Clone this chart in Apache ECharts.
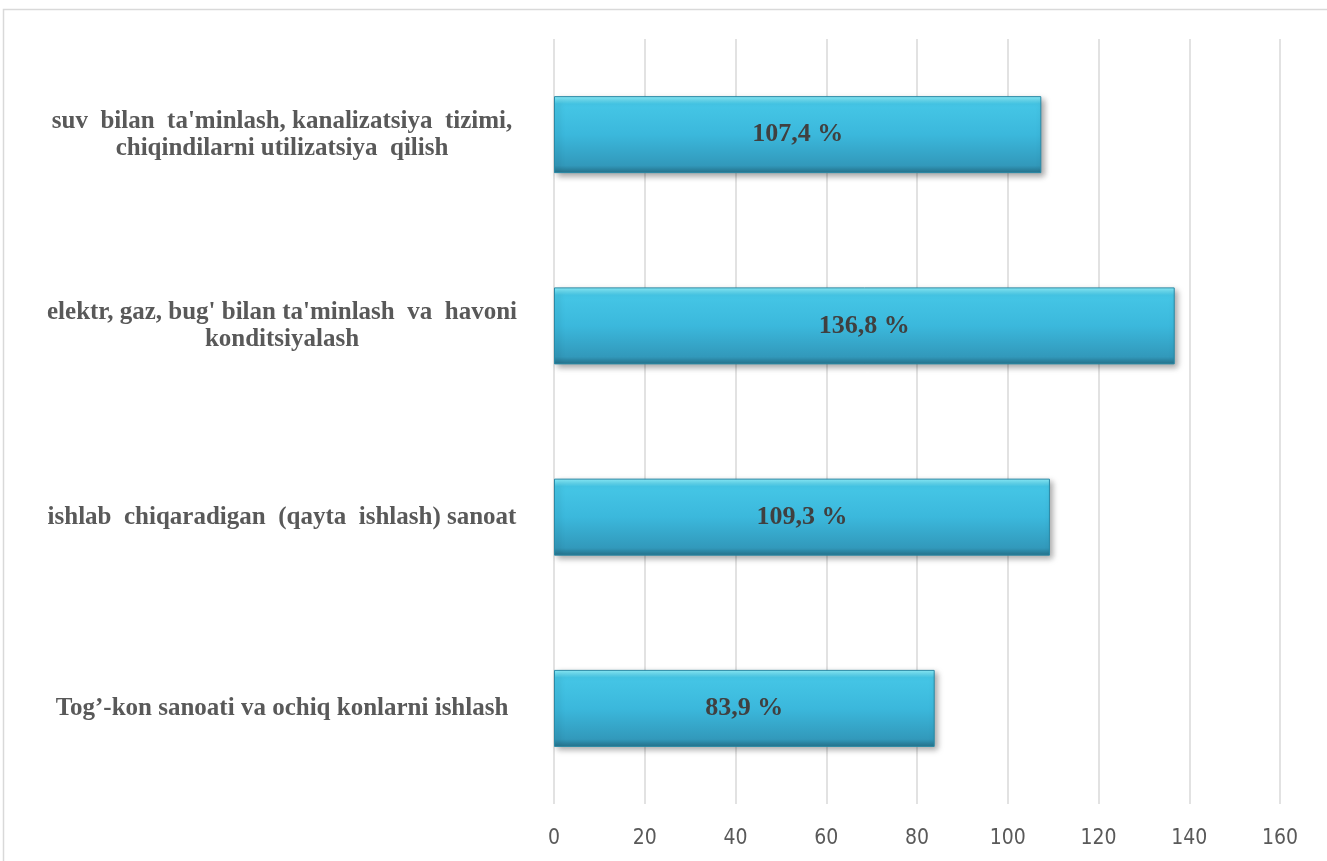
<!DOCTYPE html>
<html>
<head>
	<meta charset="utf-8" />
	<script src="https://cdn.jsdelivr.net/npm/echarts@6/dist/echarts.min.js"></script>
	<style>
		html,
		body {
			margin: 0;
			padding: 0;
			background: #fff;
		}
		#chartMain {
			width: 1327px;
			height: 861px;
		}
	</style>
</head>
<body>
	<div id="chartMain"></div>
	<script>
		// 分类（从下到上）
		const categories = [
			'Tog’-kon sanoati va ochiq konlarni ishlash',
			'ishlab  chiqaradigan  (qayta  ishlash) sanoat',
			"elektr, gaz, bug' bilan ta'minlash  va  havoni\nkonditsiyalash",
			"suv  bilan  ta'minlash, kanalizatsiya  tizimi,\nchiqindilarni utilizatsiya  qilish"
		]
		const values = [83.9, 109.3, 136.8, 107.4]
		const xTicks = [0, 20, 40, 60, 80, 100, 120, 140, 160]

		const myCharts = echarts.init(document.getElementById('chartMain'))
		var option

		option = {
			animation: false,
			graphic: [
				{
					// 外边框
					type: 'rect',
					shape: { x: 3.5, y: 9.5, width: 1340, height: 880 },
					style: { fill: 'none', stroke: '#d9d9d9', lineWidth: 1.5 },
					silent: true
				}
			],
			grid: {
				top: 39,
				bottom: 57,
				left: 554,
				right: 47
			},
			xAxis: {
				type: 'value',
				min: xTicks[0],
				max: xTicks[xTicks.length - 1],
				interval: 20,
				axisLine: { show: false },
				axisTick: { show: false },
				axisLabel: {
					//坐标轴刻度标签的相关设置
					color: '#595959',
					fontSize: 21,
					fontFamily: 'DejaVu Sans Condensed',
					margin: 24
				},
				splitLine: {
					show: true,
					lineStyle: { color: '#d9d9d9', width: 1.5 }
				}
			},
			yAxis: {
				type: 'category',
				data: categories,
				axisLine: { show: false },
				axisTick: { show: false },
				axisLabel: {
					color: '#595959',
					fontSize: 25,
					fontWeight: 'bold',
					fontFamily: 'Liberation Serif',
					align: 'center',
					lineHeight: 27,
					margin: 272
				}
			},
			series: [
				{
					type: 'bar',
					data: values,
					barWidth: 77,
					itemStyle: {
						color: new echarts.graphic.LinearGradient(0, 0, 0, 1, [
							{ offset: 0, color: '#8ef0fc' },
							{ offset: 0.1, color: '#45c6e6' },
							{ offset: 0.5, color: '#3bb8dc' },
							{ offset: 0.9, color: '#3299bb' },
							{ offset: 1, color: '#25718a' }
						]),
						borderColor: '#2a8aa6',
						borderWidth: 1,
						shadowColor: 'rgba(0,0,0,0.35)',
						shadowBlur: 6,
						shadowOffsetX: 3,
						shadowOffsetY: 3
					},
					label: {
						show: true,
						position: 'inside',
						color: '#404040',
						fontSize: 26,
						fontWeight: 'bold',
						fontFamily: 'Liberation Serif',
						formatter: (p) => p.value.toFixed(1).replace('.', ',') + ' %'
					}
				}
			]
		}

		myCharts.setOption(option)
	</script>
</body>
</html>
